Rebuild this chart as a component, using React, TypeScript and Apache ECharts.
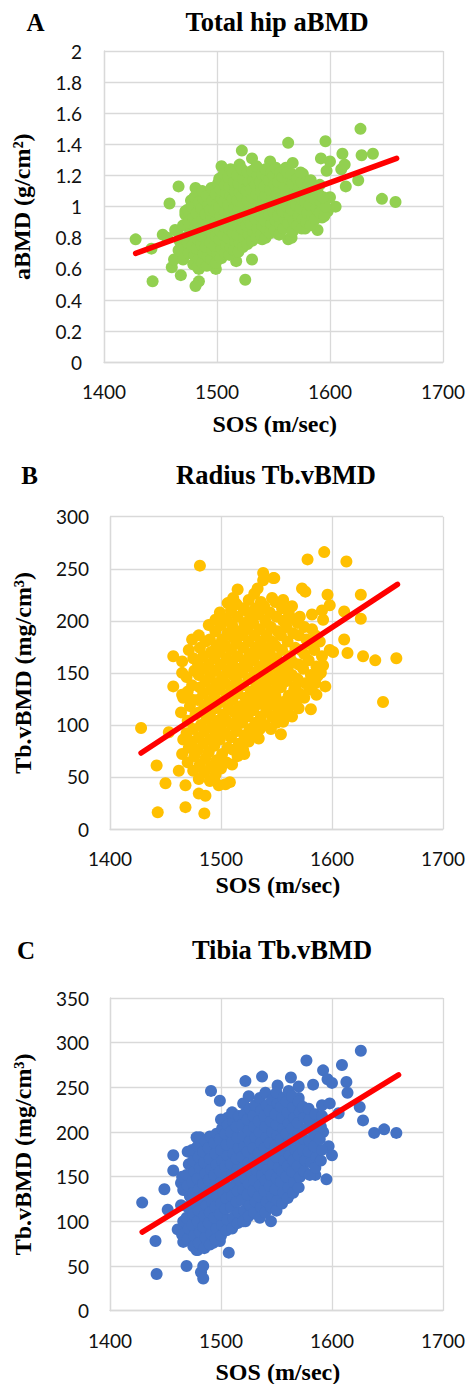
import React, { useEffect, useRef } from "react";
import * as echarts from "echarts";

// ---------------- DATA ----------------
const sosTicks = [1400, 1500, 1600, 1700];
const hipTicks = [0, 2, 0.2]; // min, max, step
const radiusTicks = [0, 300, 50];
const tibiaTicks = [0, 350, 50];

const panelLetters = ["A", "B", "C"];
const panelTitles = ["Total hip aBMD", "Radius Tb.vBMD", "Tibia Tb.vBMD"];
const xAxisTitle = "SOS (m/sec)";
const yAxisTitles = ["aBMD (g/cm²)", "Tb.vBMD (mg/cm³)", "Tb.vBMD (mg/cm³)"];

const hipTrend: [number, number][] = [[1428, 0.70], [1659, 1.31]];
const radiusTrend: [number, number][] = [[1428, 73], [1659, 235]];
const tibiaTrend: [number, number][] = [[1429, 88], [1660, 264]];

const hipPoints: [number, number][] = [
  [1428,0.79],[1442,0.73],[1443,0.52],[1452,0.82],[1456,0.80],[1458,1.02],[1460,0.61],[1462,0.66],[1463,0.85],[1466,1.13],[1468,0.56],[1472,0.97],[1477,1.04],[1481,1.12],[1484,0.60],[1484,0.52],[1481,0.49],[1499,0.60],[1504,1.26],[1504,0.67],[1513,0.72],[1517,0.65],[1522,1.36],[1531,1.31],[1525,0.53],[1531,0.66],[1547,1.29],[1561,1.25],[1563,1.41],[1567,1.28],[1576,1.21],[1582,1.16],[1589,0.85],[1592,1.31],[1593,0.93],[1596,1.42],[1597,1.23],[1598,0.97],[1600,1.29],[1600,1.06],[1605,1.00],[1610,1.24],[1611,1.34],[1613,1.27],[1614,1.13],[1625,1.17],[1627,1.50],[1628,1.33],[1638,1.34],[1646,1.05],[1658,1.03],[1563,0.79],[1566,0.80],[1578,0.86],[1540,0.79],[1528,0.79],
  [1466,0.72],[1467,0.78],[1465,0.84],
  [1470,0.66],[1471,0.74],[1469,0.80],[1470,0.88],[1472,0.95],
  [1475,0.70],[1474,0.77],[1476,0.83],[1475,0.90],[1474,0.98],
  [1479,0.63],[1480,0.69],[1478,0.75],[1479,0.82],[1481,0.87],[1479,0.93],[1478,1.00],[1480,1.06],
  [1483,0.61],[1484,0.67],[1482,0.73],[1483,0.79],[1485,0.85],[1483,0.90],[1482,0.96],[1484,1.03],
  [1487,0.64],[1488,0.70],[1486,0.76],[1487,0.81],[1489,0.87],[1487,0.92],[1486,0.99],[1488,1.05],[1487,1.10],
  [1491,0.62],[1492,0.68],[1490,0.74],[1491,0.80],[1493,0.84],[1491,0.89],[1490,0.95],[1492,1.01],[1491,1.07],
  [1495,0.66],[1496,0.72],[1494,0.77],[1495,0.83],[1497,0.88],[1495,0.93],[1494,0.98],[1496,1.04],[1495,1.12],
  [1499,0.64],[1500,0.70],[1498,0.75],[1499,0.81],[1501,0.86],[1499,0.91],[1498,0.97],[1500,1.02],[1499,1.08],[1501,1.15],
  [1503,0.67],[1504,0.73],[1502,0.79],[1503,0.84],[1505,0.89],[1503,0.94],[1502,1.00],[1504,1.05],[1503,1.11],[1502,1.18],
  [1507,0.70],[1508,0.76],[1506,0.82],[1507,0.87],[1509,0.92],[1507,0.97],[1506,1.03],[1508,1.09],[1507,1.14],[1506,1.21],
  [1511,0.69],[1512,0.74],[1510,0.80],[1511,0.85],[1513,0.90],[1511,0.96],[1510,1.01],[1512,1.07],[1511,1.13],[1510,1.19],[1512,1.24],
  [1515,0.72],[1516,0.78],[1514,0.83],[1515,0.88],[1517,0.94],[1515,0.99],[1514,1.05],[1516,1.10],[1515,1.16],[1514,1.22],
  [1519,0.71],[1520,0.77],[1518,0.82],[1519,0.87],[1521,0.93],[1519,0.98],[1518,1.04],[1520,1.09],[1519,1.15],[1518,1.20],[1520,1.27],
  [1523,0.74],[1524,0.80],[1522,0.86],[1523,0.91],[1525,0.96],[1523,1.02],[1522,1.07],[1524,1.12],[1523,1.18],[1522,1.24],
  [1527,0.76],[1528,0.82],[1526,0.88],[1527,0.93],[1529,0.99],[1527,1.04],[1526,1.10],[1528,1.16],[1527,1.22],
  [1531,0.78],[1532,0.84],[1530,0.89],[1531,0.95],[1533,1.00],[1531,1.06],[1530,1.11],[1532,1.17],[1531,1.23],
  [1535,0.80],[1536,0.86],[1534,0.92],[1535,0.97],[1537,1.03],[1535,1.08],[1534,1.14],[1536,1.20],[1535,1.26],
  [1539,0.82],[1540,0.88],[1538,0.94],[1539,0.99],[1541,1.05],[1539,1.10],[1538,1.16],[1540,1.21],
  [1543,0.80],[1544,0.85],[1542,0.91],[1543,0.96],[1545,1.02],[1543,1.07],[1542,1.13],[1544,1.19],[1543,1.24],
  [1547,0.83],[1548,0.89],[1546,0.95],[1547,1.00],[1549,1.06],[1547,1.11],[1546,1.17],[1548,1.22],
  [1551,0.85],[1552,0.91],[1550,0.97],[1551,1.03],[1553,1.08],[1551,1.14],[1550,1.20],[1552,1.25],
  [1555,0.82],[1556,0.88],[1554,0.94],[1555,1.00],[1557,1.05],[1555,1.11],[1554,1.16],[1556,1.22],
  [1559,0.86],[1560,0.92],[1558,0.97],[1559,1.03],[1561,1.09],[1559,1.14],[1558,1.19],[1560,1.24],
  [1563,0.89],[1564,0.95],[1562,1.00],[1563,1.06],[1565,1.12],[1563,1.18],[1562,1.22],
  [1567,0.84],[1568,0.91],[1566,0.98],[1567,1.04],[1569,1.09],[1567,1.15],[1566,1.21],
  [1571,0.88],[1572,0.94],[1570,1.01],[1571,1.07],[1573,1.13],[1571,1.18],
  [1575,0.86],[1576,0.92],[1574,0.99],[1575,1.05],[1577,1.11],[1575,1.16],[1574,1.22],
  [1579,0.90],[1580,0.96],[1578,1.03],[1579,1.08],[1581,1.14],
  [1583,0.88],[1584,0.95],[1582,1.01],[1583,1.06],[1585,1.12],[1583,1.17],
  [1587,0.92],[1588,0.99],[1586,1.05],[1587,1.10],
  [1591,0.96],[1592,1.03],[1590,1.08],[1591,1.14],
  [1595,0.94],[1596,1.00],[1594,1.06],
];

const radiusPoints: [number, number][] = [
  [1428,97],[1442,61],[1450,44],[1443,16],[1468,21],[1485,15],[1468,42],[1480,34],[1486,32],[1462,56],[1498,42],[1504,43],[1508,45],[1494,47],[1521,72],[1534,87],[1453,93],[1457,137],[1457,166],[1465,161],[1465,129],[1474,182],[1495,201],[1481,253],[1506,217],[1512,218],[1515,230],[1522,210],[1533,231],[1538,239],[1538,246],[1547,241],[1548,241],[1573,231],[1576,228],[1578,259],[1593,266],[1613,257],[1596,225],[1626,225],[1598,215],[1611,209],[1626,202],[1582,206],[1591,210],[1592,201],[1571,204],[1564,214],[1556,220],[1611,182],[1601,170],[1598,172],[1614,169],[1628,166],[1639,162],[1658,164],[1646,122],[1592,157],[1587,147],[1594,137],[1586,129],[1568,125],[1581,115],[1564,108],[1556,103],[1554,91],[1549,121],[1567,137],[1582,146],
  [1465,72],[1466,86],[1464,112],[1466,126],[1465,150],
  [1470,64],[1471,78],[1469,92],[1470,104],[1472,118],[1470,132],[1469,146],[1471,172],
  [1475,56],[1476,70],[1474,84],[1475,96],[1477,110],[1475,124],[1474,138],[1476,152],[1475,164],
  [1480,48],[1481,62],[1479,76],[1480,88],[1482,100],[1480,112],[1479,124],[1481,136],[1480,148],[1479,160],[1481,174],[1480,186],
  [1485,54],[1486,68],[1484,82],[1485,94],[1487,106],[1485,118],[1484,130],[1486,142],[1485,154],[1484,166],[1486,180],
  [1490,46],[1491,60],[1489,74],[1490,86],[1492,98],[1490,110],[1489,122],[1491,134],[1490,146],[1489,158],[1491,170],[1490,182],[1489,196],
  [1495,52],[1496,66],[1494,80],[1495,92],[1497,104],[1495,116],[1494,128],[1496,140],[1495,152],[1494,164],[1496,176],[1495,190],
  [1500,58],[1501,72],[1499,86],[1500,98],[1502,110],[1500,122],[1499,134],[1501,146],[1500,158],[1499,170],[1501,182],[1500,196],[1499,208],
  [1505,64],[1506,78],[1504,92],[1505,104],[1507,116],[1505,128],[1504,140],[1506,152],[1505,164],[1504,176],[1506,188],[1505,202],
  [1510,62],[1511,76],[1509,88],[1510,100],[1512,112],[1510,124],[1509,136],[1511,148],[1510,160],[1509,172],[1511,184],[1510,196],[1509,210],[1511,222],
  [1515,70],[1516,82],[1514,94],[1515,106],[1517,118],[1515,130],[1514,142],[1516,154],[1515,166],[1514,178],[1516,190],[1515,204],[1514,216],
  [1520,76],[1521,90],[1519,102],[1520,114],[1522,126],[1520,138],[1519,150],[1521,162],[1520,174],[1519,186],[1521,198],[1520,212],
  [1525,84],[1526,96],[1524,108],[1525,120],[1527,132],[1525,144],[1524,156],[1526,168],[1525,180],[1524,192],[1526,206],[1525,220],
  [1530,90],[1531,102],[1529,114],[1530,126],[1532,138],[1530,150],[1529,162],[1531,174],[1530,186],[1529,198],[1531,212],[1530,226],
  [1535,96],[1536,108],[1534,120],[1535,132],[1537,144],[1535,156],[1534,168],[1536,180],[1535,192],[1534,206],[1536,218],
  [1540,100],[1541,114],[1539,126],[1540,138],[1542,150],[1540,162],[1539,174],[1541,186],[1540,200],[1539,214],
  [1545,96],[1546,108],[1544,120],[1545,132],[1547,144],[1545,156],[1544,168],[1546,180],[1545,194],[1544,208],[1546,222],
  [1550,102],[1551,116],[1549,128],[1550,140],[1552,152],[1550,164],[1549,176],[1551,190],[1550,204],[1549,218],
  [1555,108],[1556,122],[1554,136],[1555,148],[1557,160],[1555,172],[1554,186],[1556,200],[1555,212],
  [1560,114],[1561,128],[1559,142],[1560,154],[1562,166],[1560,180],[1559,194],[1561,208],
  [1565,120],[1566,134],[1564,148],[1565,160],[1567,174],[1565,188],[1564,202],
  [1570,116],[1571,130],[1569,144],[1570,158],[1572,172],[1570,186],[1569,198],
  [1575,126],[1576,140],[1574,154],[1575,168],[1577,182],[1575,194],
  [1580,134],[1581,148],[1579,162],[1580,178],[1582,192],
  [1585,140],[1586,156],[1584,172],[1585,186],
  [1590,150],[1591,166],[1589,180],
];

const tibiaPoints: [number, number][] = [
  [1429,121],[1441,78],[1442,41],[1449,136],[1452,113],[1457,157],[1457,174],[1464,143],[1463,90],[1466,77],[1461,91],[1469,50],[1478,68],[1482,43],[1484,36],[1484,50],[1479,68],[1493,76],[1499,78],[1507,65],[1478,194],[1490,195],[1491,246],[1499,235],[1506,216],[1522,257],[1537,262],[1551,252],[1563,261],[1570,251],[1570,238],[1577,280],[1583,253],[1592,269],[1596,259],[1600,255],[1609,275],[1626,291],[1613,256],[1614,244],[1591,230],[1598,232],[1606,221],[1625,228],[1628,213],[1638,199],[1647,203],[1658,199],[1592,200],[1597,184],[1600,174],[1585,152],[1595,147],[1571,150],[1561,129],[1554,121],[1545,100],[1522,100],[1586,205],
  [1465,85],[1466,100],[1464,118],[1466,135],[1465,150],
  [1470,80],[1471,92],[1469,104],[1470,116],[1472,128],[1470,140],[1469,152],[1471,164],[1470,178],
  [1475,72],[1476,84],[1474,96],[1475,108],[1477,120],[1475,132],[1474,144],[1476,156],[1475,168],[1474,180],
  [1480,76],[1481,88],[1479,100],[1480,112],[1482,124],[1480,136],[1479,148],[1481,160],[1480,172],[1479,184],[1481,194],
  [1485,70],[1486,82],[1484,94],[1485,106],[1487,118],[1485,130],[1484,142],[1486,154],[1485,166],[1484,178],[1486,190],
  [1490,74],[1491,86],[1489,98],[1490,110],[1492,122],[1490,134],[1489,146],[1491,158],[1490,170],[1489,182],[1491,194],
  [1495,80],[1496,92],[1494,104],[1495,116],[1497,128],[1495,140],[1494,152],[1496,164],[1495,176],[1494,188],[1496,198],
  [1500,84],[1501,96],[1499,108],[1500,120],[1502,132],[1500,144],[1499,156],[1501,168],[1500,180],[1499,192],[1501,204],[1500,214],
  [1505,90],[1506,102],[1504,114],[1505,126],[1507,138],[1505,150],[1504,162],[1506,174],[1505,186],[1504,198],[1506,208],
  [1510,92],[1511,104],[1509,116],[1510,128],[1512,140],[1510,152],[1509,164],[1511,176],[1510,188],[1509,200],[1511,212],[1510,222],
  [1515,98],[1516,110],[1514,122],[1515,134],[1517,146],[1515,158],[1514,170],[1516,182],[1515,194],[1514,206],[1516,218],
  [1520,100],[1521,112],[1519,124],[1520,136],[1522,148],[1520,160],[1519,172],[1521,184],[1520,196],[1519,208],[1521,220],[1520,232],
  [1525,106],[1526,118],[1524,130],[1525,142],[1527,154],[1525,166],[1524,178],[1526,190],[1525,202],[1524,214],[1526,226],[1525,240],
  [1530,110],[1531,122],[1529,134],[1530,146],[1532,158],[1530,170],[1529,182],[1531,194],[1530,206],[1529,218],[1531,230],
  [1535,104],[1536,116],[1534,128],[1535,140],[1537,152],[1535,164],[1534,176],[1536,188],[1535,200],[1534,212],[1536,224],[1535,238],
  [1540,110],[1541,122],[1539,134],[1540,146],[1542,158],[1540,170],[1539,182],[1541,194],[1540,206],[1539,218],[1541,230],[1540,244],
  [1545,116],[1546,128],[1544,140],[1545,152],[1547,164],[1545,176],[1544,188],[1546,200],[1545,212],[1544,224],[1546,236],
  [1550,112],[1551,124],[1549,136],[1550,148],[1552,160],[1550,172],[1549,184],[1551,196],[1550,208],[1549,220],[1551,232],[1550,244],
  [1555,120],[1556,132],[1554,144],[1555,156],[1557,168],[1555,180],[1554,192],[1556,204],[1555,216],[1554,228],[1556,238],
  [1560,126],[1561,138],[1559,150],[1560,162],[1562,174],[1560,186],[1559,198],[1561,210],[1560,222],[1559,234],[1561,246],
  [1565,132],[1566,144],[1564,156],[1565,168],[1567,180],[1565,192],[1564,204],[1566,216],[1565,228],[1564,240],
  [1570,138],[1571,150],[1569,162],[1570,174],[1572,186],[1570,198],[1569,210],[1571,222],[1570,234],
  [1575,156],[1576,168],[1574,180],[1575,192],[1577,204],[1575,216],[1574,228],
  [1580,152],[1581,166],[1579,178],[1580,190],[1582,202],[1580,214],[1579,226],
  [1585,160],[1586,172],[1584,184],[1585,196],[1587,208],[1585,220],
  [1590,168],[1591,180],[1589,192],[1590,206],[1591,218],
];

const pointColors = ["#92D050", "#FFC000", "#4472C4"];
const trendColor = "#FF0000";

// ---------------- LAYOUT ----------------
const W = 468;
const H = 1384;
const grids = [
  { left: 104, top: 51, width: 341.5, height: 311.3, labelMargin: 22 },
  { left: 110, top: 516.7, width: 335.7, height: 312.3, labelMargin: 21 },
  { left: 110, top: 998, width: 335.7, height: 312.7, labelMargin: 21 },
];
const letterPos = [[35.5, 22], [29.5, 475], [26, 950]];
const titlePos = [[277, 22], [276, 475], [282, 950]];
const xTitleY = [424, 885, 1372];
const yTitleX = [22, 23, 23];

const SERIF = "'Liberation Serif', 'Times New Roman', serif";
const SANS = "Lato, 'Open Sans', sans-serif";

export default function App() {
  const ref = useRef<HTMLDivElement>(null);
  useEffect(() => {
    if (!ref.current) return;
    const chart = echarts.init(ref.current, undefined, { renderer: "svg" });
    const yTicks = [hipTicks, radiusTicks, tibiaTicks];
    const pts = [hipPoints, radiusPoints, tibiaPoints];
    const trends = [hipTrend, radiusTrend, tibiaTrend];

    const gridLine = { show: true, lineStyle: { color: "#D9D9D9", width: 1.3 } };
    const graphic: any[] = [];
    grids.forEach((g, i) => {
      graphic.push({
        type: "text", x: letterPos[i][0], y: letterPos[i][1],
        style: { text: panelLetters[i], fontFamily: SERIF, fontWeight: "bold", fontSize: 25, fill: "#000", align: "center", verticalAlign: "middle" },
      });
      graphic.push({
        type: "text", x: titlePos[i][0], y: titlePos[i][1],
        style: { text: panelTitles[i], fontFamily: SERIF, fontWeight: "bold", fontSize: 26.5, fill: "#000", align: "center", verticalAlign: "middle" },
      });
      graphic.push({
        type: "text", x: g.left + g.width / 2, y: xTitleY[i],
        style: { text: xAxisTitle, fontFamily: SERIF, fontWeight: "bold", fontSize: 24, fill: "#000", align: "center", verticalAlign: "middle" },
      });
      graphic.push({
        type: "text", x: yTitleX[i], y: g.top + g.height / 2, rotation: Math.PI / 2,
        style: { text: yAxisTitles[i], fontFamily: SERIF, fontWeight: "bold", fontSize: 24, fill: "#000", align: "center", verticalAlign: "middle" },
      });
    });

    chart.setOption({
      animation: false,
      grid: grids.map((g) => ({ left: g.left, top: g.top, width: g.width, height: g.height, containLabel: false })),
      xAxis: grids.map((g, i) => ({
        type: "value", gridIndex: i,
        min: sosTicks[0], max: sosTicks[sosTicks.length - 1], interval: sosTicks[1] - sosTicks[0],
        axisLine: { show: true, onZero: false, lineStyle: { color: "#D9D9D9", width: 1.3 } },
        axisTick: { show: false },
        splitLine: gridLine,
        axisLabel: { margin: 20, fontFamily: SANS, fontSize: 19, color: "#111", formatter: (v: number) => String(v) },
      })),
      yAxis: grids.map((g, i) => ({
        type: "value", gridIndex: i,
        min: yTicks[i][0], max: yTicks[i][1], interval: yTicks[i][2],
        axisLine: { show: true, lineStyle: { color: "#D9D9D9", width: 1.3 } },
        axisTick: { show: false },
        splitLine: gridLine,
        axisLabel: { margin: g.labelMargin, fontFamily: SANS, fontSize: 19, color: "#111", formatter: (v: number) => String(Math.round(v * 10) / 10) },
      })),
      series: [
        ...pts.map((p, i) => ({
          type: "scatter", xAxisIndex: i, yAxisIndex: i, data: p,
          symbol: "circle", symbolSize: 12, itemStyle: { color: pointColors[i], opacity: 1 },
          z: 2,
        })),
        ...trends.map((t, i) => ({
          type: "line", xAxisIndex: i, yAxisIndex: i, data: t,
          symbol: "none", lineStyle: { color: trendColor, width: 5.5, cap: "round" },
          z: 3,
        })),
      ],
      graphic,
    });
    return () => chart.dispose();
  }, []);
  return <div ref={ref} style={{ position: "absolute", left: 0, top: 0, width: W, height: H, background: "#fff" }} />;
}
